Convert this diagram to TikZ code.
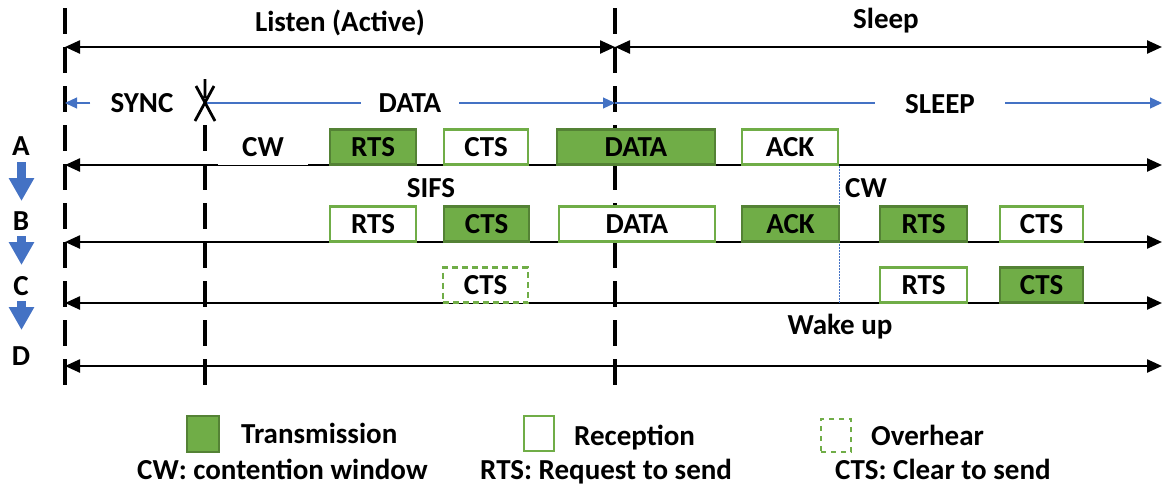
\documentclass[tikz,border=0pt]{standalone}
\usepackage{fontspec}
\setmainfont{Carlito}
\usetikzlibrary{arrows.meta}
\definecolor{txfill}{HTML}{70AD47}
\definecolor{txdraw}{HTML}{548235}
\definecolor{rxdraw}{HTML}{70AD47}
\definecolor{arrblue}{HTML}{4472C4}
\begin{document}
\begin{tikzpicture}[x=1pt,y=-1pt,
  font=\fontsize{29}{34}\selectfont\bfseries,
  every node/.style={inner sep=0pt},
  slot/.style={minimum height=35pt, inner sep=0pt, line width=2.4pt},
  txbox/.style={slot, fill=txfill, draw=txdraw},
  rxbox/.style={slot, fill=white, draw=rxdraw},
  ohbox/.style={slot, fill=white, draw=rxdraw, dash pattern=on 6pt off 4pt},
  blanks/.style={slot, fill=white},
  timeline/.style={line width=2.4pt,
    {Triangle[length=15pt,width=13pt]}-{Triangle[length=15pt,width=13pt]}},
  phase/.style={arrblue, line width=1.2pt},
  phasetip/.style={phase, -{Triangle[length=12pt,width=11pt]}},
  boundary/.style={line width=3.2pt, dash pattern=on 26pt off 13pt},
  downarrow/.style={arrblue, line width=9pt, -{Triangle[length=23pt,width=24pt]}},
  cwmark/.style={arrblue, line width=1pt, dash pattern=on 2pt off 1pt},
  lbl/.style={anchor=base},
  lgtext/.style={anchor=base west}]
\useasboundingbox (0,0) rectangle (1168,499);

% period boundaries
\coordinate (v1t) at (65,8);    \coordinate (v1b) at (65,397);
\coordinate (v2t) at (205,125); \coordinate (v2b) at (205,387);
\coordinate (v3t) at (615,8);   \coordinate (v3b) at (615,388);
\draw[boundary] (v1t) -- (v1b);
\draw[boundary] (v2t) -- (v2b);
\draw[boundary] (v3t) -- (v3b);

% listen / sleep periods
\coordinate (tL) at (65,47); \coordinate (tM) at (615,47); \coordinate (tR) at (1162,47);
\draw[timeline] (tL) -- (tM);
\draw[timeline] (tM) -- (tR);
\node[lbl] (listen) at (340,31) {Listen (Active)};
\node[lbl] (sleep) at (886,28) {Sleep};

% SYNC / DATA / SLEEP phases
\coordinate (bL) at (65,103); \coordinate (bX) at (205,103);
\coordinate (bM) at (615,103); \coordinate (bR) at (1162,103);
\node[lbl, inner xsep=20pt] (syncph) at (142,112) {SYNC};
\node[lbl, inner xsep=18pt] (dataph) at (410,112) {DATA};
\node[lbl, inner xsep=30pt] (sleepph) at (940,113) {SLEEP};
\draw[phasetip] (syncph.west |- bL) -- (bL);
\draw[phase] (bX) -- (dataph.west |- bX);
\draw[phasetip] (dataph.east |- bX) -- (bM);
\draw[phase] (bM) -- (sleepph.west |- bM);
\draw[phasetip] (sleepph.east |- bM) -- (bR);

% cut mark between SYNC and DATA
\coordinate (xa) at (205,79); \coordinate (xc) at (205,98);
\coordinate (x1) at (196,86); \coordinate (x2) at (215,121);
\coordinate (x3) at (214,86); \coordinate (x4) at (195,121);
\draw[line width=2.8pt] (xa) -- (xc) (x1) -- (x2) (x3) -- (x4);

% node time lines
\coordinate (aL) at (65,165);  \coordinate (aR) at (1162,165);
\coordinate (bbL) at (65,242); \coordinate (bbR) at (1162,242);
\coordinate (cL) at (65,303);  \coordinate (cR) at (1162,303);
\coordinate (dL) at (65,366);  \coordinate (dR) at (1162,366);
\draw[timeline] (aL) -- (aR);
\draw[timeline] (bbL) -- (bbR);
\draw[timeline] (cL) -- (cR);
\draw[timeline] (dL) -- (dR);

% node names and order
\node[lbl] (nA) at (21,155) {A};
\node[lbl] (nB) at (21,230) {B};
\node[lbl] (nC) at (21,295) {C};
\node[lbl] (nD) at (21,365) {D};
\coordinate (d1s) at (21.5,162); \coordinate (d1e) at (21.5,201);
\coordinate (d2s) at (21.5,236); \coordinate (d2e) at (21.5,265);
\coordinate (d3s) at (21.5,301); \coordinate (d3e) at (21.5,330);
\draw[downarrow] (d1s) -- (d1e);
\draw[downarrow] (d2s) -- (d2e);
\draw[downarrow] (d3s) -- (d3e);

% node A
\node[blanks, minimum width=90pt] (aCW) at (263,147) {CW};
\node[txbox, minimum width=86pt] (aRTS) at (373,147) {RTS};
\node[rxbox, minimum width=84pt] (aCTS) at (486,147) {CTS};
\node[txbox, minimum width=158pt] (aDATA) at (636,147) {DATA};
\node[rxbox, minimum width=96pt] (aACK) at (790,147) {ACK};
\draw[cwmark] (aACK.south east) -- (aACK.south east |- cL);

% node B
\node[rxbox, minimum width=86pt] (bRTS) at (373,224) {RTS};
\node[txbox, minimum width=85pt] (bCTS) at (486.5,224) {CTS};
\node[rxbox, minimum width=156pt] (bDATA) at (637,224) {DATA};
\node[txbox, minimum width=97pt] (bACK) at (790.5,224) {ACK};
\node[txbox, minimum width=87pt] (bRTS2) at (923.5,224) {RTS};
\node[rxbox, minimum width=83pt] (bCTS2) at (1041.5,224) {CTS};
\node[lbl] (sifs) at (431,197) {SIFS};
\node[lbl] (cwB) at (866,197) {CW};

% node C
\node[ohbox, minimum width=85pt] (cCTS) at (485.5,285) {CTS};
\node[rxbox, minimum width=87pt] (cRTS) at (923.5,285) {RTS};
\node[txbox, minimum width=83pt] (cCTS2) at (1041.5,285) {CTS};
\node[lbl] (wake) at (840,334) {Wake up};

% legend
\node[txbox, minimum width=32pt, minimum height=36pt] (lgTx) at (203,434) {};
\node[rxbox, minimum width=30pt, minimum height=35pt] (lgRx) at (539,433.5) {};
\node[ohbox, minimum width=30pt, minimum height=33pt, dash pattern=on 5pt off 5pt] (lgOh) at (836,435.5) {};
\node[lgtext] (lgTxT) at (241,443) {Transmission};
\node[lgtext] (lgRxT) at (574,445) {Reception};
\node[lgtext] (lgOhT) at (871,445) {Overhear};
\node[lgtext] (lgCW) at (137,479) {CW: contention window};
\node[lgtext] (lgRTS) at (480,479) {RTS: Request to send};
\node[lgtext] (lgCTS) at (835,479) {CTS: Clear to send};
\end{tikzpicture}
\end{document}
